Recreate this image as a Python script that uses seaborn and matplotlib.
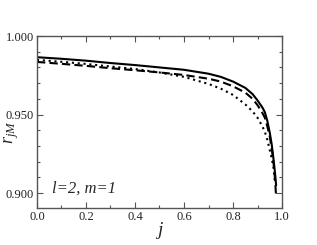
import pandas as pd
import matplotlib
matplotlib.use("Agg")
import matplotlib.pyplot as plt
import seaborn as sns
from matplotlib.ticker import MultipleLocator, FormatStrFormatter

# values
j_solid = [0.0, 0.1, 0.2, 0.3, 0.4, 0.5, 0.6, 0.7, 0.75, 0.8, 0.85, 0.88, 0.9, 0.92, 0.93, 0.94,
           0.95, 0.958, 0.965, 0.972, 0.976]
r_solid = [0.9865, 0.9855, 0.9843, 0.9828, 0.9815, 0.9800, 0.9785, 0.9760, 0.9740, 0.9710, 0.9670,
           0.9630, 0.9590, 0.9545, 0.9515, 0.9460, 0.9385, 0.9310, 0.9220, 0.9120, 0.9050]

j_dashed = [0.0, 0.1, 0.2, 0.3, 0.4, 0.5, 0.6, 0.7, 0.75, 0.8, 0.85, 0.88, 0.9, 0.92, 0.93, 0.94,
            0.95, 0.958, 0.965, 0.972, 0.976]
r_dashed = [0.9835, 0.9823, 0.9810, 0.9795, 0.9782, 0.9768, 0.9752, 0.9728, 0.9710, 0.9680, 0.9640,
            0.9600, 0.9560, 0.9510, 0.9480, 0.9425, 0.9360, 0.9285, 0.9200, 0.9080, 0.8975]

j_dotted = [0.0, 0.1, 0.2, 0.3, 0.4, 0.5, 0.6, 0.7, 0.75, 0.8, 0.85, 0.88, 0.9, 0.92, 0.93, 0.94,
            0.95, 0.958, 0.965, 0.971]
r_dotted = [0.9848, 0.9836, 0.9822, 0.9806, 0.9790, 0.9768, 0.9740, 0.9695, 0.9665, 0.9625, 0.9565,
            0.9520, 0.9480, 0.9425, 0.9390, 0.9340, 0.9275, 0.9220, 0.9165, 0.9070]

sns.set_style("ticks")
plt.rcParams['font.family'] = ['Liberation Serif', 'DejaVu Serif']
plt.rcParams['mathtext.fontset'] = 'custom'
plt.rcParams['mathtext.it'] = 'Liberation Serif:italic'
plt.rcParams['mathtext.rm'] = 'Liberation Serif'

fig = plt.figure(figsize=(3.17, 2.45), dpi=100)
ax = fig.add_axes([0.1167, 0.151, 0.7729, 0.702])

sns.lineplot(x=j_solid, y=r_solid, ax=ax, color='black', lw=1.5, sort=False)
sns.lineplot(x=j_dashed, y=r_dashed, ax=ax, color='black', lw=1.5, sort=False)
ax.lines[-1].set_dashes((4, 2))
sns.lineplot(x=j_dotted, y=r_dotted, ax=ax, color='black', lw=1.5, sort=False)
ax.lines[-1].set_dashes((1, 1.8))

ax.set_xlim(0.0, 1.0)
ax.set_ylim(0.8905, 1.0)
ax.xaxis.set_major_locator(MultipleLocator(0.2))
ax.xaxis.set_minor_locator(MultipleLocator(0.1))
ax.yaxis.set_major_locator(MultipleLocator(0.05))
ax.yaxis.set_minor_locator(MultipleLocator(0.01))
ax.xaxis.set_major_formatter(FormatStrFormatter('%.1f'))
ax.yaxis.set_major_formatter(FormatStrFormatter('%.3f'))
ax.tick_params(which='both', direction='in', top=True, right=True, color='#555555',
               labelsize=9, labelcolor='#222222', pad=2)
ax.tick_params(which='major', length=4, width=0.8)
ax.tick_params(which='minor', length=2.5, width=0.8)
for sp in ax.spines.values():
    sp.set_color('#555555')
    sp.set_linewidth(1.0)

ax.set_xlabel('$j$', fontsize=14, va='center')
ax.set_ylabel('$r_{jM}$', fontsize=13, va='center')
ax.xaxis.set_label_coords(0.5, -0.13)
ax.yaxis.set_label_coords(-0.105, 0.44)
ax.text(0.062, 0.11, 'l=2, m=1', transform=ax.transAxes, fontsize=12, style='italic', va='center')

fig.savefig('out.png', dpi=100)
